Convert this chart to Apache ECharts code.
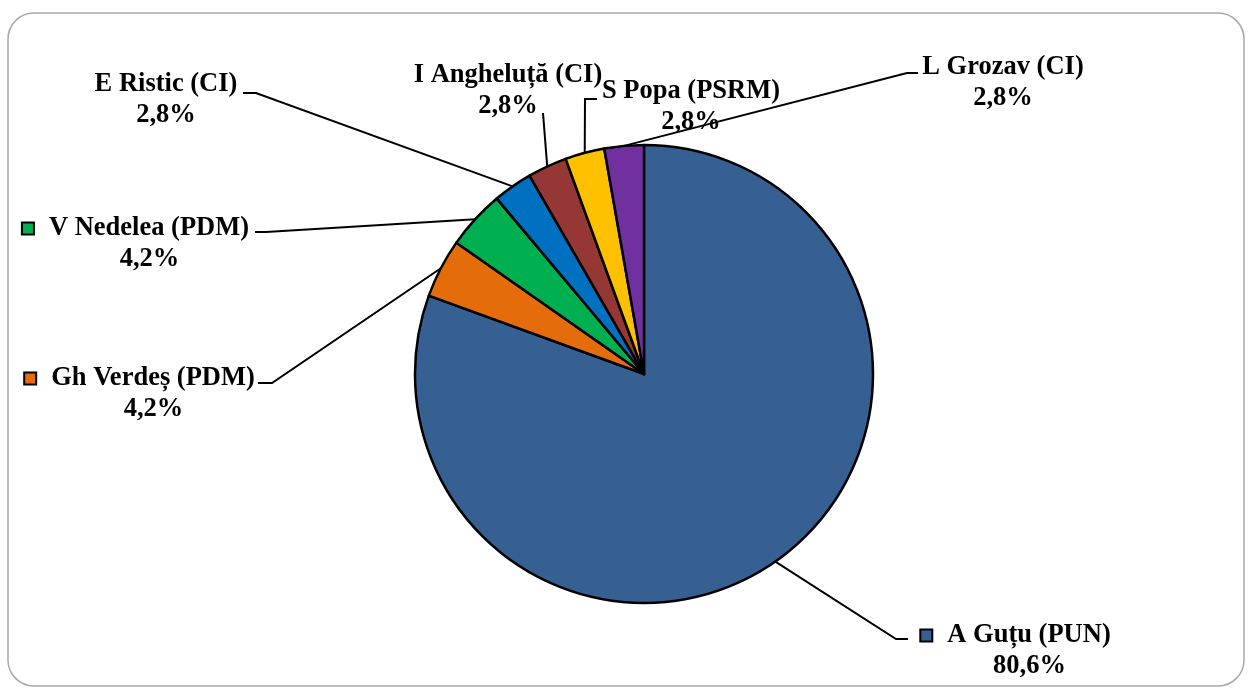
<!DOCTYPE html>
<html><head><meta charset="utf-8">
<script src="https://cdn.jsdelivr.net/npm/echarts@6/dist/echarts.min.js"></script>
<style>html,body{margin:0;padding:0;background:#fff}#c{width:1251px;height:689px}</style>
</head><body><div id="c"></div>
<script>
const names = ['A Guțu (PUN)', 'Gh Verdeș (PDM)', 'V Nedelea (PDM)', 'E Ristic (CI)', 'I Angheluță (CI)', 'S Popa (PSRM)', 'L Grozav (CI)'];
const votes = [58, 3, 3, 2, 2, 2, 2];
const colors = ['#376092', '#E46C0A', '#00B050', '#0070C0', '#953735', '#FFC000', '#7030A0'];
const showKey = [true, true, true, false, false, false, false];
// label layout (block centre), leader line bend and end points
const labelPos = [[1016, 651], [140, 394], [136, 244], [166, 100], [508, 91], [691, 107], [1003, 83]];
const leaderBend = [[896, 639], [272, 383], [266, 232], [256, 93], [543, 113], [585, 99], [907, 73]];
const leaderEnd = [[908, 639], [258, 383], [255, 232], [243, 93], [543, 113], [597, 99], [918, 73]];

const total = votes.reduce((a, b) => a + b, 0);
const FONT = "'Times New Roman','Liberation Serif',serif";
const rich = {
  nm: { fontFamily: FONT, fontWeight: 'bold', fontSize: 26.5, lineHeight: 31, color: '#000', align: 'center' },
  sp: { width: 16, height: 11, align: 'center' },
  pad: { width: 27, height: 11, align: 'center' }
};
colors.forEach((c, i) => {
  rich['k' + i] = { width: 10, height: 10, backgroundColor: c, borderColor: '#000', borderWidth: 2, align: 'center', verticalAlign: 'middle' };
});

const chart = echarts.init(document.getElementById('c'), null, { renderer: 'canvas' });
chart.setOption({
  animation: false,
  backgroundColor: '#fff',
  graphic: [{
    type: 'rect', shape: { x: 8, y: 13, width: 1236, height: 673, r: 26 },
    style: { fill: 'none', stroke: '#a8a8a8', lineWidth: 1.5 }, silent: true, z: -1
  }],
  series: [{
    type: 'pie',
    center: [644, 374],
    radius: 229,
    startAngle: 90,
    clockwise: true,
    avoidLabelOverlap: false,
    emphasis: { disabled: true },
    itemStyle: { borderColor: '#000', borderWidth: 2.5 },
    data: names.map((n, i) => ({ name: n, value: votes[i], itemStyle: { color: colors[i] } })),
    label: {
      show: true,
      position: 'outside',
      fontFamily: FONT, fontWeight: 'bold', fontSize: 26.5, lineHeight: 31, color: '#000',
      align: 'center',
      formatter: p => {
        const pct = (p.value / total * 100).toFixed(1).replace('.', ',') + '%';
        return showKey[p.dataIndex]
          ? '{k' + p.dataIndex + '|}{sp|}{nm|' + p.name + '}\n{pad|}{nm|' + pct + '}'
          : '{nm|' + p.name + '}\n{nm|' + pct + '}';
      },
      rich: rich
    },
    labelLine: { show: true, lineStyle: { color: '#000', width: 2 } },
    labelLayout: params => {
      const i = params.dataIndex;
      const p0 = params.labelLinePoints ? params.labelLinePoints[0] : leaderBend[i];
      return {
        x: labelPos[i][0], y: labelPos[i][1], align: 'center', verticalAlign: 'middle',
        labelLinePoints: [p0, leaderBend[i], leaderEnd[i]]
      };
    }
  }]
});
</script></body></html>
